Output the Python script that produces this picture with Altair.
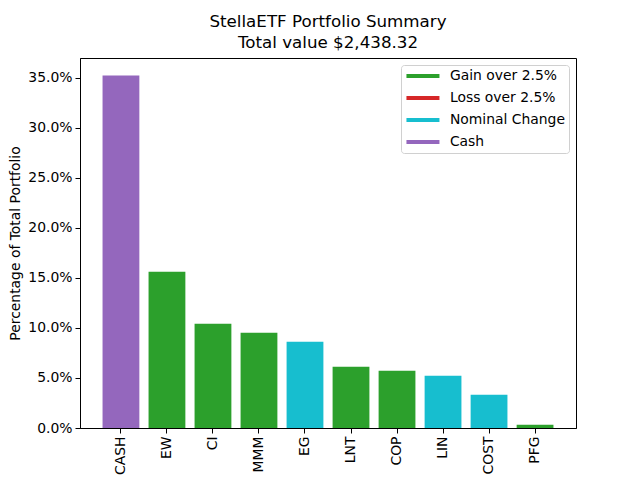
import altair as alt
import pandas as pd

tickers = ["CASH", "EW", "CI", "MMM", "EG", "LNT", "COP", "LIN", "COST", "PFG"]
shares = [0.3523, 0.1563, 0.1043, 0.0953, 0.0863, 0.0613, 0.0573, 0.0523, 0.0333, 0.0033]
status = ["Cash", "Gain over 2.5%", "Gain over 2.5%", "Gain over 2.5%", "Nominal Change",
          "Gain over 2.5%", "Gain over 2.5%", "Nominal Change", "Nominal Change", "Gain over 2.5%"]
legend_order = ["Gain over 2.5%", "Loss over 2.5%", "Nominal Change", "Cash"]
legend_colors = ["#2ca02c", "#d62728", "#17becf", "#9467bd"]
title_lines = ["StellaETF Portfolio Summary", "Total value $2,438.32"]

df = pd.DataFrame({"ticker": tickers, "share": shares, "status": status})

FONT = "DejaVu Sans"
LINE_SYMBOL = "M-1,-0.36L5,-0.36L5,0.36L-1,0.36Z"

chart = alt.Chart(df).mark_bar().encode(
    x=alt.X("ticker:N", sort=tickers, title=None,
            scale=alt.Scale(paddingInner=0.2, paddingOuter=0.49),
            axis=alt.Axis(labelAngle=270, labelAlign="right", labelBaseline="middle",
                          labelFontSize=13.9, labelFont=FONT, labelColor="black",
                          tickColor="black", domainColor="black", tickSize=5,
                          labelPadding=3, grid=False)),
    y=alt.Y("share:Q", title="Percentage of Total Portfolio",
            scale=alt.Scale(domain=[0, 0.3699], nice=False, zero=True),
            axis=alt.Axis(format=".1%", values=[0, 0.05, 0.1, 0.15, 0.2, 0.25, 0.3, 0.35],
                          labelFontSize=13.9, labelFont=FONT, labelColor="black",
                          tickColor="black", domainColor="black", tickSize=5,
                          labelPadding=3, grid=False,
                          titleFontSize=13.9, titleFont=FONT, titleFontWeight="normal",
                          titleColor="black", titlePadding=5)),
    color=alt.Color("status:N",
                    scale=alt.Scale(domain=legend_order, range=legend_colors),
                    legend=alt.Legend(title=None, orient="top-right", offset=7,
                                      symbolType=LINE_SYMBOL, symbolStrokeWidth=0,
                                      symbolSize=121, symbolOpacity=1,
                                      labelFontSize=13.9, labelFont=FONT,
                                      labelColor="black", labelOffset=31,
                                      labelExpr="datum.label + '\u00a0\u00a0\u00a0'",
                                      strokeColor="#d0d0d0",
                                      fillColor="white", cornerRadius=3, padding=4,
                                      rowPadding=7)),
).properties(
    width=496, height=370,
    title=alt.TitleParams(text=title_lines, fontSize=16.7, font=FONT, fontWeight="normal",
                          color="black", anchor="middle", offset=6, lineHeight=21),
    autosize=alt.AutoSizeParams(type="none"),
    padding={"left": 72, "top": 50, "right": 56, "bottom": 50},
).configure_view(stroke="black", strokeWidth=1)

chart.save("out.html", embed_options={"renderer": "svg", "actions": False})
